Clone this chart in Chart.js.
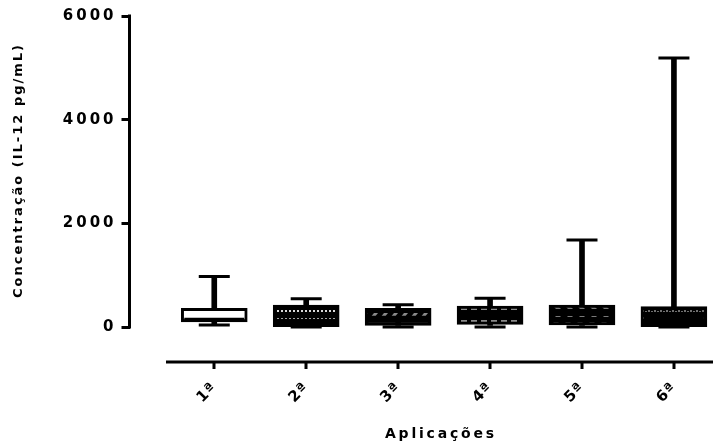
<!DOCTYPE html>
<html><head><meta charset="utf-8">
<script src="https://cdn.jsdelivr.net/npm/chart.js@4"></script>
<style>html,body{margin:0;padding:0;background:#fff;overflow:hidden}canvas{display:block}</style>
</head><body>
<canvas id="c" width="713" height="444"></canvas>
<script>
// ---- data ----
const categories = ['1ª', '2ª', '3ª', '4ª', '5ª', '6ª'];
const minValues = [40, 0, 0, 0, 0, 0];
const q1Values = [100, 5, 0, 50, 40, 5];
const medianValues = [150, 200, 190, 230, 240, 180];
const q3Values = [360, 425, 360, 405, 425, 392];
const maxValues = [975, 546, 430, 554, 1680, 5190];
const yTickValues = [0, 2000, 4000, 6000];
const yTitle = 'Concentração (IL-12 pg/mL)';
const xTitle = 'Aplicações';

const positions = categories.map((_, i) => i + 1);
const X_MIN = 0.078, X_MAX = 6.425, X_AXIS_START = 0.475;
const Y_MIN = -675;

// ---- fill patterns ----
function makePattern(w, h, paint) {
  const c = document.createElement('canvas');
  c.width = w; c.height = h;
  const g = c.getContext('2d');
  paint(g, w, h);
  return document.getElementById('c').getContext('2d').createPattern(c, 'repeat');
}
const pDots = makePattern(4, 7, (g, w, h) => {
  g.fillStyle = '#000'; g.fillRect(0, 0, w, h);
  g.fillStyle = '#d8d8d8'; g.fillRect(1, 2, 2, 2);
});
const pDiag = makePattern(10, 10, (g, w, h) => {
  g.fillStyle = '#000'; g.fillRect(0, 0, w, h);
  g.fillStyle = '#8a8a8a';
  g.beginPath(); g.moveTo(0, 8); g.lineTo(4, 3); g.lineTo(8, 3); g.lineTo(4, 8); g.closePath(); g.fill();
});
const pDash = makePattern(10, 6, (g, w, h) => {
  g.fillStyle = '#000'; g.fillRect(0, 0, w, h);
  g.fillStyle = '#8a8a8a'; g.fillRect(1, 2, 6, 2);
});
const pDiag2 = makePattern(12, 8, (g, w, h) => {
  g.fillStyle = '#000'; g.fillRect(0, 0, w, h);
  g.fillStyle = '#7a7a7a';
  g.beginPath(); g.moveTo(1, 2); g.lineTo(6, 2); g.lineTo(9, 5); g.lineTo(4, 5); g.closePath(); g.fill();
});
const pWave = makePattern(6, 7, (g, w, h) => {
  g.fillStyle = '#000'; g.fillRect(0, 0, w, h);
  g.fillStyle = '#6e6e6e'; g.fillRect(0, 2, 2, 2); g.fillRect(3, 3, 2, 1);
});
const boxFills = ['#ffffff', pDots, pDiag, pDash, pDiag2, pWave];

// ---- plugin: Prism-style axes, titles, letter spacing ----
function wrapSpacing(scale, method, spacing) {
  const orig = scale[method];
  if (orig.__sp === spacing) return;
  const base = orig.__orig || orig;
  const w = function (...a) {
    const ctx = this.ctx, prev = ctx.letterSpacing;
    ctx.letterSpacing = spacing;
    try { return base.apply(this, a); } finally { ctx.letterSpacing = prev; }
  };
  w.__sp = spacing; w.__orig = base;
  scale[method] = w;
}
function noPad(s) { s.paddingTop = 0; s.paddingBottom = 0; s.paddingLeft = 0; s.paddingRight = 0; }
const prismAxes = {
  id: 'prismAxes',
  beforeDraw(chart) {
    wrapSpacing(chart.scales.y, 'drawLabels', '3px');
    wrapSpacing(chart.scales.x, 'drawLabels', '1px');
  },
  afterDraw(chart) {
    const { ctx, chartArea, scales: { x, y } } = chart;
    const yTop = y.getPixelForValue(yTickValues[yTickValues.length - 1]);
    const yBot = y.getPixelForValue(yTickValues[0]);
    const xStart = x.getPixelForValue(X_AXIS_START);
    ctx.save();
    ctx.fillStyle = '#000';
    ctx.fillRect(chartArea.left - 1.5, yTop - 1.5, 3, yBot - yTop + 3);
    ctx.fillRect(xStart, chartArea.bottom - 1.5, chartArea.right - xStart, 3);
    for (let i = 0; i < positions.length; i++) {
      const px = x.getPixelForValue(positions[i]);
      ctx.fillRect(Math.round(px) - 1.5, Math.round(chartArea.bottom), 3, 7);
    }
    ctx.textAlign = 'center'; ctx.textBaseline = 'middle';
    ctx.font = 'bold 14px "DejaVu Sans"';
    ctx.letterSpacing = '2.8px';
    ctx.fillText(xTitle, (xStart + chartArea.right) / 2 + 1.4, 434);
    ctx.font = 'bold 13px "DejaVu Sans"';
    ctx.letterSpacing = '2px';
    ctx.translate(19, (yTop + yBot) / 2);
    ctx.rotate(-Math.PI / 2);
    ctx.fillText(yTitle, 1, 0);
    ctx.restore();
  }
};

const pt = (arr) => arr.map((v, i) => ({ x: positions[i], y: v }));
const rng = (lo, hi) => lo.map((v, i) => ({ x: positions[i], y: [v, hi[i]] }));

new Chart(document.getElementById('c'), {
  data: {
    datasets: [
      { type: 'bar', data: rng(minValues, maxValues), backgroundColor: '#000', borderWidth: 0,
        barThickness: 5, grouped: false, order: 4 },
      { type: 'bar', data: rng(q1Values, q3Values), backgroundColor: boxFills, borderColor: '#000',
        borderWidth: 3, borderSkipped: false, barThickness: 66, grouped: false, order: 2 },
      { type: 'line', data: pt(medianValues), showLine: false, pointStyle: 'line', pointRadius: 30,
        pointHoverRadius: 30, borderColor: '#000', pointBorderWidth: 3, order: 1 },
      { type: 'line', data: pt(maxValues), showLine: false, pointStyle: 'line', pointRadius: 15.5,
        pointHoverRadius: 15.5, borderColor: '#000', pointBorderWidth: 3, order: 3 },
      { type: 'line', data: pt(minValues), showLine: false, pointStyle: 'line', pointRadius: 15.5,
        pointHoverRadius: 15.5, borderColor: '#000', pointBorderWidth: 3, order: 3 }
    ]
  },
  options: {
    responsive: false, animation: false, events: [],
    layout: { autoPadding: false, padding: { top: 16, right: 0, bottom: 0, left: 0 } },
    plugins: { legend: { display: false }, tooltip: { enabled: false } },
    scales: {
      x: {
        type: 'linear', min: X_MIN, max: X_MAX, offset: false,
        afterFit(s) { s.height = 82; noPad(s); },
        afterBuildTicks(s) { s.ticks = positions.map(v => ({ value: v })); },
        border: { display: false },
        grid: { display: false },
        ticks: {
          autoSkip: false, minRotation: 45, maxRotation: 45, padding: 9, color: '#000',
          font: { family: 'DejaVu Sans', weight: 'bold', size: 15 },
          callback: (v) => categories[Math.round(v) - 1]
        }
      },
      y: {
        type: 'linear', min: Y_MIN, max: yTickValues[yTickValues.length - 1],
        afterFit(s) { s.width = 129.5; noPad(s); },
        afterBuildTicks(s) { s.ticks = yTickValues.map(v => ({ value: v })); },
        border: { display: false },
        grid: { display: true, drawOnChartArea: false, drawTicks: true, tickLength: 8, lineWidth: 3, color: '#000' },
        ticks: {
          padding: 5, color: '#000',
          font: { family: 'DejaVu Sans', weight: 'bold', size: 15 },
          callback: (v) => String(v)
        }
      }
    }
  },
  plugins: [prismAxes]
});
</script>
</body></html>
